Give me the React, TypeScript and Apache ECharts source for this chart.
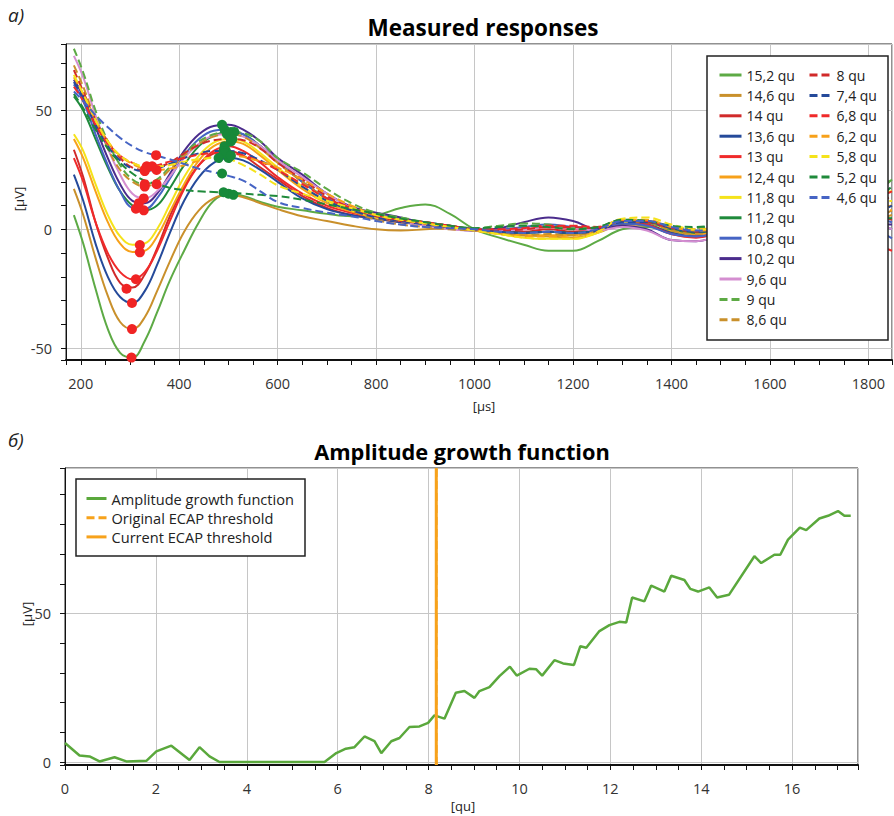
import React, { useEffect, useRef } from "react";
import * as echarts from "echarts";

const FONT = "'Open Sans', 'Noto Sans', sans-serif";

// ---------- Top chart: measured responses ----------
const timeUs = [186, 205, 230, 255, 280, 305, 330, 355, 380, 410, 440, 470, 500, 530, 565, 600, 650, 700, 750, 800, 850, 900, 950, 1000, 1050, 1100, 1150, 1200, 1250, 1300, 1350, 1400, 1450, 1500, 1650, 1800, 1848];

const seriesNames = ["15,2 qu", "14,6 qu", "14 qu", "13,6 qu", "13 qu", "12,4 qu", "11,8 qu", "11,2 qu", "10,8 qu", "10,2 qu", "9,6 qu", "9 qu", "8,6 qu", "8 qu", "7,4 qu", "6,8 qu", "6,2 qu", "5,8 qu", "5,2 qu", "4,6 qu"];
const seriesColors = ["#5daa45", "#c9902b", "#d12a2a", "#254a9a", "#f02a2a", "#f7a11a", "#f5e31b", "#1f8a3b", "#4664c4", "#4b2c8c", "#d48ed0", "#5daa45", "#c9902b", "#d12a2a", "#254a9a", "#f02a2a", "#f7a11a", "#f5e31b", "#1f8a3b", "#4664c4"];
const seriesDashed = [false, false, false, false, false, false, false, false, false, false, false, true, true, true, true, true, true, true, true, true];

const r152 = [6, -6, -25, -42, -52, -54, -47, -35, -22, -9, 3, 12, 15, 14, 11.5, 9.5, 8, 6.5, 5.5, 6, 9, 10.5, 6.5, 0, -3.5, -6.5, -9, -9, -5, 0, 1, -1, -2, 0, 4, 14, 21];
const r146 = [17, 6, -12, -28, -39, -42, -37, -26, -14, -1, 8, 13, 14.5, 13.5, 11, 8.5, 5.5, 3.5, 1.5, 0, -0.5, 0, 0.5, -0.5, -1.5, -2.5, -3, -3.5, -1.5, 2, 1.5, -1.5, -3, -2, 0, 4, 8];
const r140 = [33.5, 22, 3, -12, -22.5, -24.5, -19, -8, 5, 18, 27, 32, 33, 31, 26, 21, 14, 9, 6, 4.5, 3, 2, 1, 0, -0.5, -1, 0, -1, 0, 3, 2, -2, -3, -1, 2, 6, 4];
const r136 = [23, 12, -6, -20, -28.5, -31, -26, -15, -2, 12, 22, 28, 30, 29, 25, 20, 13, 8.5, 6, 4.5, 3, 2, 1, -0.5, -1, -1.5, -1, -2, -0.5, 2.5, 2, -1.5, -3, -2, 1, 3, 0];
const r130 = [30, 20, 3, -10, -18, -21, -18, -9, 3, 17, 27, 33, 35, 33, 28, 22, 15, 10, 7, 5, 3.5, 2.5, 1, 0, -0.5, 0, 1, 0, 0.5, 3, 2, -2, -3.5, -2, 0, -6, -9];
const r124 = [38, 30, 16, 3, -6, -9.5, -9, -3, 7, 19, 29, 35, 37, 36, 31, 25, 17, 11, 7.5, 5, 3.5, 2, 0.5, -0.5, -1.5, -2.5, -2.5, -2.5, -0.5, 3.5, 3, -0.5, -2, -1, 2, 8, 10];
const r118 = [40, 33, 19, 6, -3, -6.5, -6, 0, 10, 22, 31, 36.5, 38, 37, 32, 26, 18, 12, 8, 5, 4, 3, 1, -0.5, -2, -3.5, -4, -4, -1.5, 3, 3.5, 0.5, -1, 0, 4, 14, 16];
const r112 = [56, 50, 38, 26, 16, 10, 8, 10, 17, 27, 35, 39.5, 41, 40, 35, 29, 20, 13, 8.5, 5.5, 4, 3, 1.5, 0, -1, -1.5, -1, -1.5, 0, 3.5, 3, 0, -1.5, 0, 2, 5, 4.7];
const r108 = [61, 54, 40, 27, 16, 9, 8.5, 13, 21, 31, 38, 41.5, 42, 40, 35, 29, 20, 13, 8.5, 6, 4.5, 3, 1.5, 0, 0, 1, 2, 1, 0.5, 2.5, 1.5, -2, -3, -1.5, 1, 0, -3.8];
const r102 = [63, 56, 43, 30, 19, 12, 11, 15, 23, 33, 40, 43.5, 44, 42, 37, 30, 23, 15, 9.5, 7, 5, 2.5, 0.5, -0.5, 0.5, 3, 5, 3.5, 0, 1.5, 0, -4.5, -5, -3, 0, 2, 2];
const r096 = [73, 64, 48, 34, 23, 15, 13, 16, 22, 30, 36, 39.5, 40, 39, 35, 29, 22, 15, 9, 5.5, 3.5, 1.5, 0, -0.5, -0.5, 0, 1, 0.5, -0.5, 1, -0.5, -4.5, -5, -3, 0, 3, 0];
const r090 = [76, 66, 50, 37, 27, 21, 19, 21, 26, 32, 37, 40, 41, 40.5, 37, 30, 24, 17, 11, 7, 5, 3, 1.5, 0.5, 1.5, 2.5, 2, 0.5, 1, 4, 3, 0, 0.5, 2, 6, 16, 21];
const r086 = [69, 60, 46, 34, 25, 20, 18, 20, 25, 31, 36, 39, 40, 39, 34, 28, 20, 13, 8, 4, 2, 1, 0, -0.5, -1.5, -2.5, -2, -2.5, -0.5, 3.5, 3, -0.5, -2, -1, 1, 4, 6];
const r080 = [67, 58, 46, 37, 30, 26, 25, 26, 28, 32, 35.5, 37.5, 38, 37.5, 34, 28, 21, 14, 9, 5.5, 3.5, 2.5, 1.5, 0, -0.5, 0, 1, 1, 0.5, 3.5, 3, 0.5, -1, 0, 3, 10, 14];
const r074 = [62, 55, 44, 35, 29, 25.5, 24.5, 25.5, 27.5, 30, 32, 33, 33, 32, 29, 25, 18, 12, 8, 5, 3.5, 2, 1, 0, -1, -1.5, -1, -1.5, -0.5, 3, 3, 0.5, -1, 0, 2, 6, 10];
const r068 = [60, 54, 44, 36, 31, 28, 26.5, 27, 28.5, 30, 31.5, 32, 32, 31, 28.5, 25, 19, 13, 9, 6, 4, 3, 1.5, 0, 0, 0.5, 1.5, 1.5, 1, 4, 3.5, 1, 0, 1, 4, 12, 16];
const r062 = [64, 57, 46, 37, 31, 27.5, 25.5, 25, 25.5, 27, 29, 30.5, 31, 30.5, 28.5, 26, 21, 15, 10, 6, 4, 2.5, 1, -0.5, -2, -3, -3, -3.5, -1, 4, 4, 1, -0.5, 0, 3, 8, 8];
const r058 = [65, 57, 46, 37, 31, 28, 26.5, 26.5, 27, 28.5, 29.5, 30, 29.5, 27, 23, 18.5, 15, 12, 9, 6, 4, 2.5, 1, -0.5, -2, -3.5, -4, -4, -1, 4.5, 5, 2, 0, 0.5, 3, 10, 12];
const r052 = [57, 51, 42, 34, 28, 23.5, 20.5, 19, 17.5, 16.5, 16, 15.7, 15.5, 15, 14.5, 14, 12.5, 10.5, 8.5, 6.5, 4.5, 3, 1.5, 0.5, 1, 1.5, 1, 0, 1, 4, 3.5, 1.5, 1, 2, 5, 12, 18];
const r046 = [58, 54, 48, 43, 38.5, 35, 32.5, 31, 29.5, 27.5, 25.5, 24, 22.5, 20.5, 16, 11.5, 9, 7, 5.5, 3.5, 2, 1, 0.5, 0, -1, -1.5, -1, -1.5, 0, 3.5, 3.5, 1, -0.5, 0, 2, 5, 3];

const responses = [r152, r146, r140, r136, r130, r124, r118, r112, r108, r102, r096, r090, r086, r080, r074, r068, r062, r058, r052, r046];

// N1 (trough, red) and P2 (peak, green) markers
const troughX = [303, 304, 293, 304, 312, 320, 320, 328, 312, 318, 328, 330, 330, 330, 330, 334, 354, 345, 354, 353];
const troughY = [-54, -42, -25, -31, -21, -9.7, -6.6, 8, 8.7, 11, 13, 19, 18, 25, 24.5, 26.5, 25, 26.5, 19, 31.2];
const peakX = [500, 510, 495, 500, 492, 505, 505, 505, 492, 487, 497, 512, 500, 508, 490, 492, 505, 480, 490, 487];
const peakY = [15, 14.5, 33, 30, 35, 37, 38, 41, 42, 44, 40, 41, 40, 38, 33, 32, 31, 30, 15.6, 23.5];

// ---------- Bottom chart: amplitude growth function ----------
const agfX = [0, 0.32, 0.54, 0.76, 1.09, 1.35, 1.79, 2.01, 2.34, 2.74, 2.96, 3.18, 3.4, 5.71, 5.97, 6.18, 6.37, 6.59, 6.81, 6.96, 7.18, 7.36, 7.58, 7.8, 7.99, 8.13, 8.35, 8.6, 8.79, 9.01, 9.12, 9.34, 9.56, 9.79, 9.94, 10.22, 10.37, 10.5, 10.77, 10.96, 11.2, 11.34, 11.47, 11.76, 11.98, 12.2, 12.35, 12.48, 12.75, 12.9, 13.19, 13.34, 13.63, 13.76, 13.93, 14.18, 14.35, 14.61, 15.17, 15.32, 15.61, 15.74, 15.91, 16.17, 16.31, 16.6, 16.79, 17.01, 17.15, 17.29];
const agfY = [6.4, 2.2, 1.9, 0.2, 1.6, 0.2, 0.4, 3.6, 5.5, 0.7, 5.0, 1.9, 0, 0, 3.0, 4.5, 5.0, 8.6, 7.0, 3.0, 7.0, 8.1, 11.8, 12.0, 13.2, 15.7, 14.6, 23.3, 23.9, 21.6, 23.9, 25.2, 28.9, 32.1, 29.1, 31.4, 31.2, 29.1, 34.3, 33.2, 32.7, 39.0, 38.5, 44.1, 46.1, 47.2, 47.0, 55.4, 54.1, 59.4, 57.4, 62.7, 61.3, 58.3, 57.4, 58.8, 55.4, 56.3, 69.3, 67.0, 69.8, 69.8, 74.9, 78.9, 78.1, 82.0, 82.9, 84.5, 82.9, 82.9];
const thresholdQu = 8.17;
const agfLegend = ["Amplitude growth function", "Original ECAP threshold", "Current ECAP threshold"];

function buildOption(): any {
  const axisText = { fontSize: 14.5, color: "#333", fontFamily: FONT, formatter: (v: number) => String(v) };
  const tickStyle = { color: "#111", width: 1 };
  const splitStyle = { color: "#c6c6c6", width: 1 };

  const topSeries: any[] = responses.map((vals, i) => ({
    name: seriesNames[i],
    type: "line",
    xAxisIndex: 0,
    yAxisIndex: 0,
    smooth: 0.4,
    symbol: "none",
    z: 2,
    lineStyle: {
      color: seriesColors[i],
      width: 2,
      type: seriesDashed[i] ? [8, 4] : "solid",
    },
    itemStyle: { color: seriesColors[i] },
    data: timeUs.map((t, k) => [t, vals[k]]),
  }));

  topSeries.push({
    name: "N1",
    type: "scatter",
    xAxisIndex: 0,
    yAxisIndex: 0,
    symbolSize: 10,
    z: 5,
    itemStyle: { color: "#f02424", opacity: 1 },
    data: troughX.map((t, k) => [t, troughY[k]]),
  });
  topSeries.push({
    name: "P2",
    type: "scatter",
    xAxisIndex: 0,
    yAxisIndex: 0,
    symbolSize: 10,
    z: 5,
    itemStyle: { color: "#17893a", opacity: 1 },
    data: peakX.map((t, k) => [t, peakY[k]]),
  });

  const bottomSeries: any[] = [
    {
      name: agfLegend[0],
      type: "line",
      xAxisIndex: 1,
      yAxisIndex: 1,
      symbol: "none",
      lineStyle: { color: "#5aa83c", width: 2.5 },
      itemStyle: { color: "#5aa83c" },
      data: agfX.map((q, k) => [q, agfY[k]]),
    },
    {
      name: agfLegend[1],
      type: "line",
      xAxisIndex: 1,
      yAxisIndex: 1,
      symbol: "none",
      lineStyle: { color: "#f7a21b", width: 2.5, type: [8, 4] },
      itemStyle: { color: "#f7a21b" },
      data: [[thresholdQu, -1], [thresholdQu, 99]],
    },
    {
      name: agfLegend[2],
      type: "line",
      xAxisIndex: 1,
      yAxisIndex: 1,
      symbol: "none",
      lineStyle: { color: "#f7a21b", width: 3 },
      itemStyle: { color: "#f7a21b" },
      data: [[thresholdQu, -1], [thresholdQu, 99]],
    },
  ];

  const legendBase = {
    orient: "vertical",
    itemHeight: 14,
    selectedMode: false,
    z: 60,
    itemStyle: { opacity: 0 },
    lineStyle: { width: 3 },
  };

  return {
    animation: false,
    backgroundColor: "#fff",
    textStyle: { fontFamily: FONT },
    grid: [
      { left: 66, top: 44, width: 826, height: 316, show: true, borderColor: "#222", borderWidth: 1, backgroundColor: "transparent" },
      { left: 65, top: 468, width: 793, height: 297, show: true, borderColor: "#222", borderWidth: 1, backgroundColor: "transparent" },
    ],
    xAxis: [
      {
        type: "value",
        gridIndex: 0,
        min: 170,
        max: 1848,
        minInterval: 200,
        maxInterval: 200,
        axisLine: { show: true, onZero: false, lineStyle: { color: "#111", width: 2 } },
        axisTick: { show: true, length: 5, lineStyle: tickStyle },
        minorTick: { show: true, splitNumber: 4, length: 5, lineStyle: tickStyle },
        splitLine: { show: true, lineStyle: splitStyle },
        axisLabel: { ...axisText, margin: 16, showMinLabel: false, showMaxLabel: false },
      },
      {
        type: "value",
        gridIndex: 1,
        min: 0,
        max: 17.45,
        interval: 2,
        axisLine: { show: true, onZero: false, lineStyle: { color: "#111", width: 2 } },
        axisTick: { show: true, length: 5, lineStyle: tickStyle },
        minorTick: { show: true, splitNumber: 4, length: 5, lineStyle: tickStyle },
        splitLine: { show: true, lineStyle: splitStyle },
        axisLabel: { ...axisText, margin: 16, showMaxLabel: false },
      },
    ],
    yAxis: [
      {
        type: "value",
        gridIndex: 0,
        min: -55,
        max: 78,
        minInterval: 50,
        maxInterval: 50,
        axisLine: { show: true, onZero: false, lineStyle: { color: "#111", width: 1 } },
        axisTick: { show: true, length: 5, lineStyle: tickStyle },
        minorTick: { show: true, splitNumber: 5, length: 5, lineStyle: tickStyle },
        splitLine: { show: true, lineStyle: splitStyle },
        axisLabel: { ...axisText, margin: 14, showMinLabel: false, showMaxLabel: false },
      },
      {
        type: "value",
        gridIndex: 1,
        min: -1,
        max: 99,
        minInterval: 50,
        maxInterval: 50,
        axisLine: { show: true, onZero: false, lineStyle: { color: "#111", width: 1 } },
        axisTick: { show: true, length: 5, lineStyle: tickStyle },
        minorTick: { show: true, splitNumber: 5, length: 5, lineStyle: tickStyle },
        splitLine: { show: true, lineStyle: splitStyle },
        axisLabel: { ...axisText, margin: 14, showMinLabel: false, showMaxLabel: false },
      },
    ],
    legend: [
      {
        ...legendBase,
        data: seriesNames.slice(0, 13),
        left: 713,
        top: 63,
        itemWidth: 22,
        itemGap: 6.4,
        textStyle: { fontSize: 14, color: "#222", fontFamily: FONT },
      },
      {
        ...legendBase,
        data: seriesNames.slice(13),
        left: 803,
        top: 63,
        itemWidth: 22,
        itemGap: 6.4,
        textStyle: { fontSize: 14, color: "#222", fontFamily: FONT },
      },
      {
        ...legendBase,
        data: agfLegend,
        left: 80,
        top: 486,
        itemWidth: 20,
        itemGap: 4.2,
        textStyle: { fontSize: 14.6, color: "#222", fontFamily: FONT },
      },
    ],
    graphic: [
      { type: "rect", z: 50, shape: { x: 707, y: 56, width: 181, height: 284 }, style: { fill: "#fff", stroke: "#222", lineWidth: 1.5 } },
      { type: "rect", z: 50, shape: { x: 76, y: 479, width: 229, height: 77 }, style: { fill: "#fff", stroke: "#222", lineWidth: 1.5 } },
      { type: "text", x: 8, y: 5, style: { text: "a)", font: `italic 19px ${FONT}`, fill: "#222" } },
      { type: "text", x: 8, y: 430, style: { text: "б)", font: `italic 19px ${FONT}`, fill: "#222" } },
      { type: "text", x: 483, y: 27, style: { text: "Measured responses", font: `bold 22.5px ${FONT}`, fill: "#000", align: "center", verticalAlign: "middle" } },
      { type: "text", x: 462, y: 451, style: { text: "Amplitude growth function", font: `bold 21.8px ${FONT}`, fill: "#000", align: "center", verticalAlign: "middle" } },
      { type: "text", x: 484, y: 406, style: { text: "[µs]", font: `13px ${FONT}`, fill: "#222", align: "center", verticalAlign: "middle" } },
      { type: "text", x: 463, y: 806, style: { text: "[qu]", font: `13px ${FONT}`, fill: "#222", align: "center", verticalAlign: "middle" } },
      { type: "text", x: 19, y: 199, rotation: Math.PI / 2, style: { text: "[µV]", font: `13px ${FONT}`, fill: "#222", align: "center", verticalAlign: "middle" } },
      { type: "text", x: 27, y: 614, rotation: Math.PI / 2, style: { text: "[µV]", font: `13px ${FONT}`, fill: "#222", align: "center", verticalAlign: "middle" } },
    ],
    series: [...topSeries, ...bottomSeries],
  };
}

export default function App() {
  const ref = useRef<HTMLDivElement>(null);
  useEffect(() => {
    if (!ref.current) return;
    const chart = echarts.init(ref.current, undefined, { renderer: "svg" });
    chart.setOption(buildOption());
    return () => chart.dispose();
  }, []);
  return <div ref={ref} style={{ position: "absolute", left: 0, top: 0, width: 894, height: 816 }} />;
}
